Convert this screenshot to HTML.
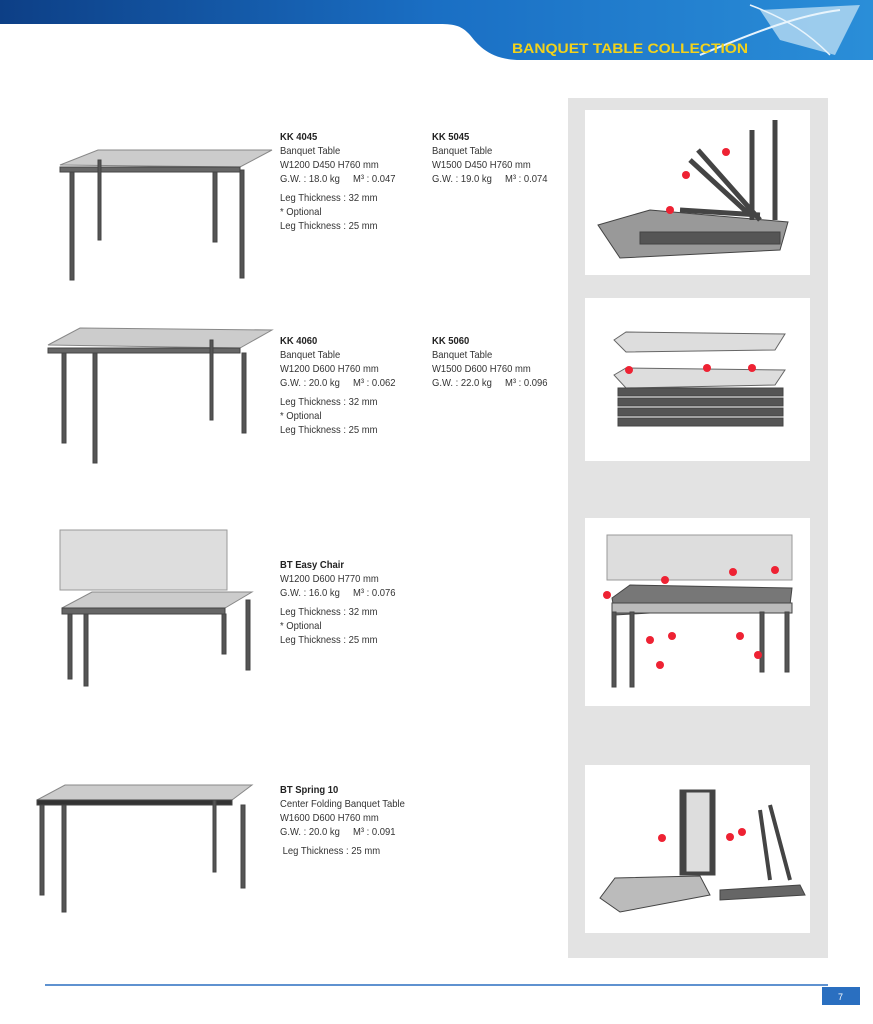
<!DOCTYPE html>
<html><head><meta charset="utf-8"><style>
body{margin:0;width:873px;height:1024px;background:#fff;position:relative;overflow:hidden;font-family:"Liberation Sans",sans-serif}
.t{position:absolute;font-size:10.5px;line-height:14px;color:#333;transform:scaleX(.9);transform-origin:0 0;white-space:nowrap}
.t b{color:#222}
.box{position:absolute;background:#fff;left:585px;width:225px}
</style></head><body>
<svg width="873" height="80" style="position:absolute;left:0;top:0">
<defs><linearGradient id="g" x1="0" x2="1"><stop offset="0" stop-color="#0d3f86"/><stop offset=".5" stop-color="#1a6fc4"/><stop offset="1" stop-color="#2a8ed8"/></linearGradient></defs>
<path d="M0 0H873V60H520C490 60 478 45 470 35 462 26 455 24 440 24H0Z" fill="url(#g)"/>
<path d="M760 10L860 5 835 55 780 40Z" fill="#b9dcf2" opacity=".8"/>
<path d="M700 55C760 30 800 15 840 10" stroke="#e8f4fc" stroke-width="2" fill="none"/>
<path d="M750 5C790 20 810 35 830 55" stroke="#e8f4fc" stroke-width="1.5" fill="none"/>
<text x="512" y="53" font-family="Liberation Sans" font-weight="bold" font-size="14" fill="#f2d21b" textLength="236" lengthAdjust="spacingAndGlyphs">BANQUET TABLE COLLECTION</text>
</svg>
<div style="position:absolute;left:568px;top:98px;width:260px;height:860px;background:#e3e3e3"></div>
<div class="box" style="top:110px;height:165px"></div>
<div class="box" style="top:298px;height:163px"></div>
<div class="box" style="top:518px;height:188px"></div>
<div class="box" style="top:765px;height:168px"></div>
<svg width="873" height="1024" style="position:absolute;left:0;top:0">
<g fill="#555" stroke="#444">
<!-- table 1 -->
<path d="M60 165L98 150 272 150 240 167Z" fill="#ccc" stroke="#888"/>
<rect x="60" y="167" width="180" height="5" fill="#666"/>
<rect x="70" y="172" width="4" height="108"/><rect x="98" y="160" width="3" height="80"/><rect x="213" y="172" width="4" height="70"/><rect x="240" y="170" width="4" height="108"/>
<!-- table 2 -->
<path d="M48 345L80 328 272 330 240 348Z" fill="#ccc" stroke="#888"/>
<rect x="48" y="348" width="192" height="5" fill="#666"/>
<rect x="62" y="353" width="4" height="90"/><rect x="93" y="353" width="4" height="110"/><rect x="210" y="340" width="3" height="80"/><rect x="242" y="353" width="4" height="80"/>
<!-- bench -->
<rect x="60" y="530" width="167" height="60" fill="#ddd" stroke="#999"/>
<path d="M62 608L92 592 252 592 225 608Z" fill="#ccc" stroke="#888"/>
<rect x="62" y="608" width="163" height="6" fill="#666"/>
<rect x="68" y="614" width="4" height="65"/><rect x="84" y="614" width="4" height="72"/><rect x="222" y="614" width="4" height="40"/><rect x="246" y="600" width="4" height="70"/>
<!-- spring -->
<path d="M37 800L65 785 252 785 232 800Z" fill="#ccc" stroke="#888"/>
<rect x="37" y="800" width="195" height="5" fill="#333"/>
<rect x="40" y="805" width="4" height="90"/><rect x="62" y="805" width="4" height="107"/><rect x="213" y="800" width="3" height="72"/><rect x="241" y="805" width="4" height="83"/>
<!-- right images -->
<path d="M598 225L650 210 788 222 780 250 620 258Z" fill="#999"/><rect x="640" y="232" width="140" height="12" fill="#555"/>
<path d="M698 150L760 220M690 160L750 215M680 210L760 215M752 130V220M775 120V220" stroke-width="5"/>
<path d="M614 340L626 332 785 334 775 350 626 352Z" fill="#ddd" stroke="#666"/>
<path d="M614 375L626 368 785 370 775 385 626 388Z" fill="#ddd" stroke="#666"/>
<rect x="618" y="388" width="165" height="8"/><rect x="618" y="398" width="165" height="8"/><rect x="618" y="408" width="165" height="8"/><rect x="618" y="418" width="165" height="8"/>
<rect x="607" y="535" width="185" height="45" fill="#ddd" stroke="#999"/>
<path d="M612 598L630 585 792 588 790 605 615 615Z" fill="#777"/><rect x="612" y="603" width="180" height="10" fill="#bbb"/>
<rect x="612" y="612" width="4" height="75"/><rect x="630" y="612" width="4" height="75"/><rect x="760" y="612" width="4" height="60"/><rect x="785" y="612" width="4" height="60"/>
<rect x="680" y="790" width="35" height="85" fill="#444"/><rect x="686" y="792" width="24" height="80" fill="#ddd"/>
<path d="M600 898L615 878 700 876 710 895 620 912Z" fill="#bbb" stroke="#444"/>
<path d="M720 890L800 885 805 895 720 900Z" fill="#666"/>
<path d="M760 810L770 880M770 805L790 880" stroke-width="4"/>
</g>
<g fill="#e23">
<circle cx="670" cy="210" r="4"/><circle cx="726" cy="152" r="4"/><circle cx="686" cy="175" r="4"/>
<circle cx="629" cy="370" r="4"/><circle cx="707" cy="368" r="4"/><circle cx="752" cy="368" r="4"/>
<circle cx="607" cy="595" r="4"/><circle cx="665" cy="580" r="4"/><circle cx="733" cy="572" r="4"/><circle cx="775" cy="570" r="4"/><circle cx="650" cy="640" r="4"/><circle cx="672" cy="636" r="4"/><circle cx="660" cy="665" r="4"/><circle cx="740" cy="636" r="4"/><circle cx="758" cy="655" r="4"/>
<circle cx="662" cy="838" r="4"/><circle cx="730" cy="837" r="4"/><circle cx="742" cy="832" r="4"/>
</g>
<line x1="45" y1="985" x2="828" y2="985" stroke="#2a6fc0" stroke-width="1.5"/>
<rect x="822" y="987" width="38" height="18" fill="#2a6fc0"/>
<text x="838" y="1000" font-size="9" fill="#fff" font-family="Liberation Sans">7</text>
</svg>
<div class="t" style="left:280px;top:130px"><b>KK 4045</b><br>Banquet Table<br>W1200 D450 H760 mm<br>G.W. : 18.0 kg &nbsp;&nbsp;&nbsp; M³ : 0.047<br><div style="height:5px"></div>Leg Thickness : 32 mm<br>* Optional<br>Leg Thickness : 25 mm</div>
<div class="t" style="left:432px;top:130px"><b>KK 5045</b><br>Banquet Table<br>W1500 D450 H760 mm<br>G.W. : 19.0 kg &nbsp;&nbsp;&nbsp; M³ : 0.074</div>
<div class="t" style="left:280px;top:334px"><b>KK 4060</b><br>Banquet Table<br>W1200 D600 H760 mm<br>G.W. : 20.0 kg &nbsp;&nbsp;&nbsp; M³ : 0.062<br><div style="height:5px"></div>Leg Thickness : 32 mm<br>* Optional<br>Leg Thickness : 25 mm</div>
<div class="t" style="left:432px;top:334px"><b>KK 5060</b><br>Banquet Table<br>W1500 D600 H760 mm<br>G.W. : 22.0 kg &nbsp;&nbsp;&nbsp; M³ : 0.096</div>
<div class="t" style="left:280px;top:558px"><b>BT Easy Chair</b><br>W1200 D600 H770 mm<br>G.W. : 16.0 kg &nbsp;&nbsp;&nbsp; M³ : 0.076<br><div style="height:5px"></div>Leg Thickness : 32 mm<br>* Optional<br>Leg Thickness : 25 mm</div>
<div class="t" style="left:280px;top:783px"><b>BT Spring 10</b><br>Center Folding Banquet Table<br>W1600 D600 H760 mm<br>G.W. : 20.0 kg &nbsp;&nbsp;&nbsp; M³ : 0.091<br><div style="height:5px"></div>&nbsp;Leg Thickness : 25 mm</div>
</body></html>
